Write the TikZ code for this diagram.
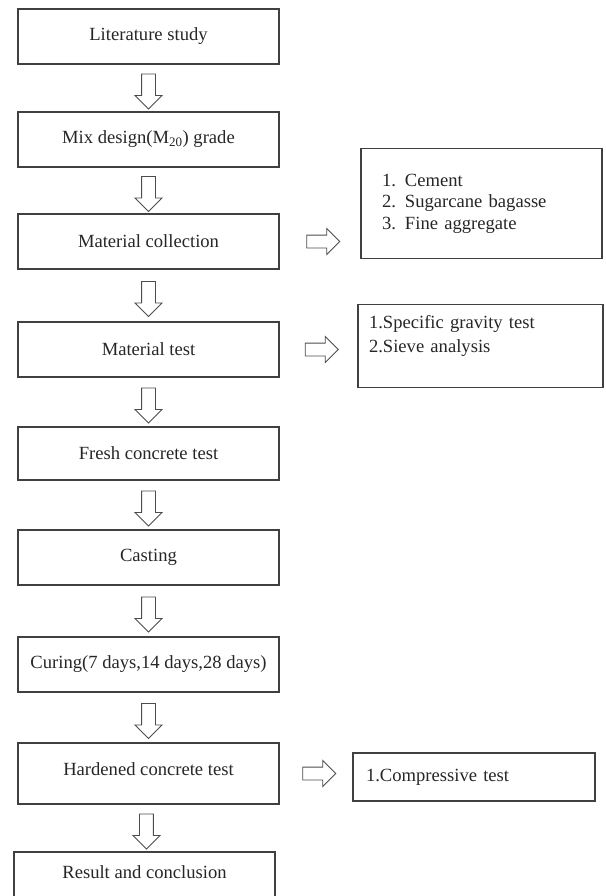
\documentclass[tikz,border=0pt]{standalone}
\usepackage{fontspec}
\setmainfont{Liberation Serif}
\usetikzlibrary{positioning,shapes.arrows}

\begin{document}
\begin{tikzpicture}[node distance=50pt, semithick,
                    font=\fontsize{18.6}{21.5}\selectfont]

  \tikzstyle{stage}    = [draw=black!75, line width=1.3pt, minimum width=261pt,
                          minimum height=55pt, outer sep=0pt, text=black!85]
  \tikzstyle{listbox}  = [draw=black!75, line width=1.3pt, align=left,
                          outer sep=0pt, text=black!85]
  \tikzstyle{flow}     = [draw=black!70, line width=0.9pt, single arrow,
                          single arrow head extend=6.5pt, inner xsep=0pt,
                          inner ysep=6.5pt, minimum height=35pt]
  \tikzstyle{downflow} = [flow, rotate=-90]
  \tikzstyle{sideflow} = [flow, inner ysep=6pt, minimum height=33pt]

  \useasboundingbox (0,0) rectangle (605pt,-896pt);

  % main steps
  \node[stage] (lit)   at (148.5pt,-36.5pt)    {Literature study};
  \node[stage] (mix)   [below=48pt of lit]     {Mix design(M\textsubscript{20}) grade};
  \node[stage] (coll)  [below=47pt of mix]     {Material collection};
  \node[stage] (mtest) [below=53pt of coll]    {Material test};
  \node[stage, minimum height=53pt] (fresh) [below=50pt of mtest] {Fresh concrete test};
  \node[stage] (cast)  [below=50pt of fresh]   {Casting};
  \node[stage] (cure)  [below=52pt of cast]    {Curing(7 days,14 days,28 days)};
  \node[stage, minimum height=61pt, text depth=8pt] (hard) [below=51pt of cure]
        {Hardened concrete test};
  \node[stage, text depth=15pt] (res) [below=48pt of hard, xshift=-4pt]
        {Result and conclusion};

  % side lists
  \node[listbox, minimum width=241pt, minimum height=110pt, text width=199pt,
        inner xsep=21pt] (mats) [right=82pt of coll, yshift=38pt]
        {\makebox[23pt][l]{1.}Cement\\
         \makebox[23pt][l]{2.}Sugarcane bagasse\\
         \makebox[23pt][l]{3.}Fine aggregate};
  \node[listbox, minimum width=245pt, minimum height=83pt, text width=223pt,
        inner xsep=11pt, font=\fontsize{18.6}{24}\selectfont] (tests)
        [right=79pt of mtest, yshift=3.5pt]
        {1.Specific gravity test\\2.Sieve analysis\\\mbox{}};
  \node[listbox, minimum width=242pt, minimum height=48pt, text width=216pt,
        inner xsep=13pt] (comp) [right=74pt of hard, yshift=-3.5pt]
        {1.Compressive test};

  \path (lit)   -- (mix)   node[midway, downflow] {}
        (mix)   -- (coll)  node[midway, downflow] {}
        (coll)  -- (mtest) node[midway, downflow] {}
        (mtest) -- (fresh) node[midway, downflow] {}
        (fresh) -- (cast)  node[midway, downflow] {}
        (cast)  -- (cure)  node[midway, downflow] {}
        (cure)  -- (hard)  node[midway, downflow] {}
        (hard)  -- (res)   node[midway, downflow] {};

  \path (coll)  -- (coll -| mats.west)   node[midway, sideflow] {}
        (mtest) -- (mtest -| tests.west) node[midway, sideflow] {}
        (hard)  -- (hard -| comp.west)   node[midway, sideflow] {};
\end{tikzpicture}
\end{document}
